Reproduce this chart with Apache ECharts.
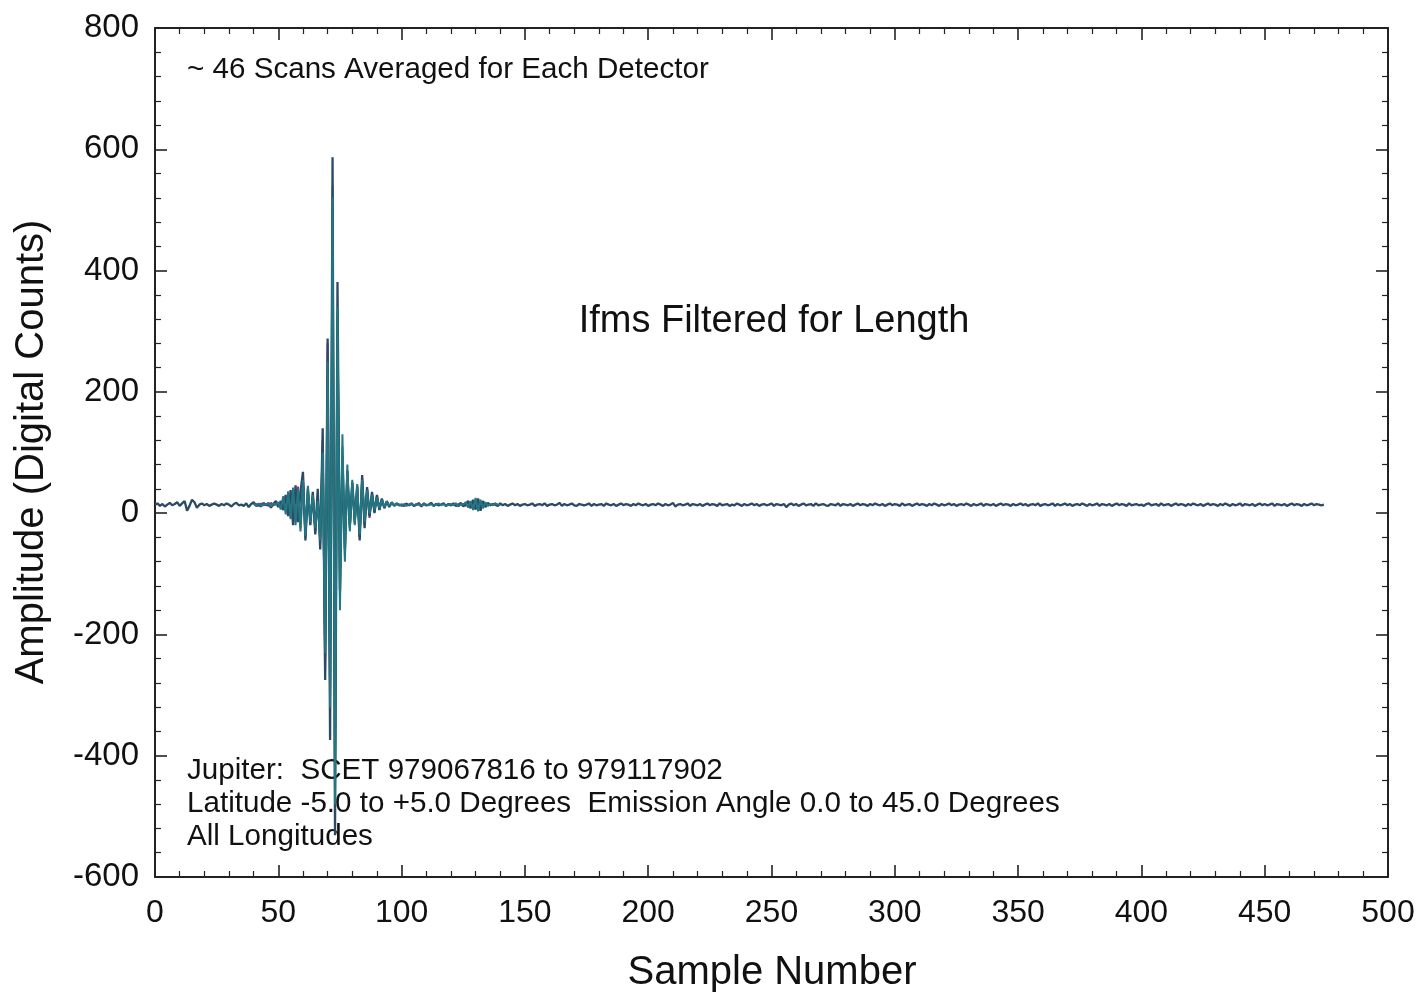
<!DOCTYPE html>
<html>
<head>
<meta charset="utf-8">
<script src="https://cdn.jsdelivr.net/npm/echarts@6/dist/echarts.min.js"></script>
<style>
html,body{margin:0;padding:0;background:#fff;}
#chart{width:1420px;height:997px;}
</style>
</head>
<body>
<div id="chart"></div>
<script>
// ---- Data ----
const xTickValues = [0, 50, 100, 150, 200, 250, 300, 350, 400, 450, 500];
const yTickValues = [-600, -400, -200, 0, 200, 400, 600, 800];

// Main detector trace (dark slate), samples 0..474
const detMainStart = 0;
const detMain = [
  14,16,12,15,11,14,17,13,15,18,12,16,20,4,12,22,18,9,14,16,
  13,15,12,14,16,14,12,15,13,16,14,11,15,17,13,14,12,16,10,15,
  18,12,14,11,17,13,16,9,15,20,
  10,20,5,30,-5,38,-20,46,-15,35,
  68,-45,40,-20,35,-35,40,-60,140,-275,
  288,-374,587,-531,381,-127,95,-60,70,-20,
  50,-10,45,-45,63,-25,43,-5,35,0,
  30,5,24,8,20,10,18,12,16,13,
  14,12,15,13,16,12,14,15,11,16,13,14,17,12,15,13,14,16,12,15,
  13,16,12,14,17,11,15,20,8,22,6,24,4,20,10,17,13,15,14,12,
  16,13,15,12,14,16,13,15,12,14,
  15,13,14,16,12,14,15,13,16,12,14,15,13,14,17,12,15,13,14,16,13,12,15,14,13,
  14,16,12,15,13,14,15,12,16,14,13,15,12,14,16,13,15,14,12,15,13,16,14,13,15,
  12,14,15,13,16,14,12,15,13,14,17,11,14,15,13,14,16,12,15,14,13,15,12,14,16,
  13,15,14,12,16,13,14,15,12,14,13,16,14,12,15,13,14,16,13,15,12,14,15,13,14,
  16,12,15,14,13,15,10,14,16,13,15,12,14,16,13,14,15,12,16,13,14,15,13,12,15,
  14,13,16,12,15,14,13,15,12,14,16,13,15,14,12,15,13,16,14,13,15,12,14,16,13,
  15,14,12,16,13,14,15,12,14,16,13,15,14,12,15,13,16,14,12,15,13,14,16,13,15,
  12,14,15,13,16,14,12,15,13,14,16,12,15,14,13,15,12,14,16,13,15,14,12,15,13,
  14,16,13,15,12,14,15,13,16,12,14,15,13,14,16,12,15,13,14,16,13,15,12,14,15,
  13,16,14,12,15,13,14,16,12,15,14,13,15,12,14,16,13,15,14,12,16,13,14,15,13,
  14,12,15,16,13,14,15,12,16,13,14,15,12,14,16,13,15,14,12,15,13,16,14,13,15,
  12,14,16,13,15,14,12,15,13,16,14,12,15,13,14,16,12,15,14,13,15,12,14,16,13,
  15,13,14,16,12,15,14,13,15,12,14,16,13,15,14,12,15,13,14,16,13,15,14,13,14
];

// Teal detector trace, samples 40..140
const detTealStart = 40;
const detTeal = [
  15,13,16,12,15,14,17,11,16,14,
  18,6,28,-2,36,-10,42,-20,40,-30,
  55,-38,45,-15,30,-25,20,-45,100,-230,
  250,-320,521,-480,340,-160,130,-80,80,-30,
  55,-20,48,-35,55,-15,38,0,30,5,
  26,8,22,10,19,12,17,13,16,14,
  13,15,12,14,16,13,15,14,12,16,14,13,15,12,14,16,13,15,12,14,
  15,13,16,11,15,14,18,9,20,5,25,3,22,8,18,12,15,13,16,14,13
];

// Magenta detector trace, samples 40..140
const detMagentaStart = 40;
const detMagenta = [
  14,15,12,16,13,15,12,17,13,15,
  14,10,22,4,30,-8,36,-15,44,-25,
  60,-40,38,-10,28,-30,25,-50,120,-260,
  280,-300,420,-400,300,-100,70,-50,65,-25,
  45,-15,40,-40,58,-20,40,-8,32,2,
  28,6,22,9,19,11,17,13,15,14,
  12,14,16,13,15,12,14,17,12,15,13,14,16,12,15,13,14,16,12,15,
  13,14,16,12,14,15,12,19,10,21,7,20,9,18,12,15,13,14,16,13,14
];

// Green detector trace, samples 60..100
const detGreenStart = 60;
const detGreen = [
  50,-30,35,-15,32,-28,30,-40,110,-240,
  220,-290,540,-460,330,-140,110,-70,70,-25,
  50,-18,42,-38,55,-18,40,-5,32,4,
  27,7,22,10,18,12,16,13,15,14,14
];

const seriesDefs = [
  {name: 'Detector C', start: detMagentaStart, values: detMagenta, color: '#9a3577', width: 2.0},
  {name: 'Detector D', start: detGreenStart, values: detGreen, color: '#1f9a6e', width: 2.0},
  {name: 'Detector A', start: detMainStart, values: detMain, color: '#2c4a66', width: 2.3},
  {name: 'Detector B', start: detTealStart, values: detTeal, color: '#237782', width: 2.0}
];

const FONT = '"Liberation Sans", Arial, Helvetica, sans-serif';

const chart = echarts.init(document.getElementById('chart'), null, {renderer: 'canvas'});

const tickStyle = {show: true, inside: true, length: 12, lineStyle: {color: '#222', width: 1.6}};
const minorStyle = {show: true, splitNumber: 5, length: 6, lineStyle: {color: '#222', width: 1.2}};
const lineStyleAx = {show: true, onZero: false, lineStyle: {color: '#222', width: 2}};

const option = {
  backgroundColor: '#ffffff',
  animation: false,
  grid: {left: 155, right: 32, top: 28, bottom: 120, containLabel: false},
  xAxis: [
    {
      type: 'value', min: 0, max: 500, interval: 50, position: 'bottom',
      axisLine: lineStyleAx,
      axisTick: tickStyle,
      minorTick: minorStyle,
      splitLine: {show: false},
      axisLabel: {
        show: true, margin: 20, color: '#111', fontSize: 32, fontFamily: FONT,
        customValues: xTickValues,
        formatter: v => String(v)
      }
    },
    {
      type: 'value', min: 0, max: 500, interval: 50, position: 'top',
      axisLine: lineStyleAx,
      axisTick: tickStyle,
      minorTick: minorStyle,
      splitLine: {show: false},
      axisLabel: {show: false}
    }
  ],
  yAxis: [
    {
      type: 'value', min: -600, max: 800, interval: 200, position: 'left',
      axisLine: lineStyleAx,
      axisTick: tickStyle,
      minorTick: minorStyle,
      splitLine: {show: false},
      axisLabel: {
        show: true, margin: 16, color: '#111', fontSize: 33, fontFamily: FONT,
        customValues: yTickValues,
        formatter: v => String(v)
      }
    },
    {
      type: 'value', min: -600, max: 800, interval: 200, position: 'right',
      axisLine: lineStyleAx,
      axisTick: tickStyle,
      minorTick: minorStyle,
      splitLine: {show: false},
      axisLabel: {show: false}
    }
  ],
  series: seriesDefs.map(d => ({
    name: d.name,
    type: 'line',
    xAxisIndex: 0,
    yAxisIndex: 0,
    showSymbol: false,
    symbol: 'none',
    smooth: false,
    clip: true,
    lineStyle: {color: d.color, width: d.width},
    data: d.values.map((v, i) => [d.start + i, v])
  })),
  graphic: [
    {type: 'text', x: 187, y: 70, style: {text: '~ 46 Scans Averaged for Each Detector', font: '29.6px ' + FONT, fill: '#111', textAlign: 'left', textVerticalAlign: 'middle'}},
    {type: 'text', x: 774, y: 322, style: {text: 'Ifms Filtered for Length', font: '38px ' + FONT, fill: '#111', textAlign: 'center', textVerticalAlign: 'middle'}},
    {type: 'text', x: 187, y: 771, style: {text: 'Jupiter:  SCET 979067816 to 979117902', font: '29.6px ' + FONT, fill: '#111', textAlign: 'left', textVerticalAlign: 'middle'}},
    {type: 'text', x: 187, y: 804, style: {text: 'Latitude -5.0 to +5.0 Degrees  Emission Angle 0.0 to 45.0 Degrees', font: '29.6px ' + FONT, fill: '#111', textAlign: 'left', textVerticalAlign: 'middle'}},
    {type: 'text', x: 187, y: 837, style: {text: 'All Longitudes', font: '29.6px ' + FONT, fill: '#111', textAlign: 'left', textVerticalAlign: 'middle'}},
    {type: 'text', x: 772, y: 973, style: {text: 'Sample Number', font: '40px ' + FONT, fill: '#111', textAlign: 'center', textVerticalAlign: 'middle'}},
    {type: 'text', x: 32, y: 452, rotation: Math.PI / 2, style: {text: 'Amplitude (Digital Counts)', font: '40px ' + FONT, fill: '#111', textAlign: 'center', textVerticalAlign: 'middle'}}
  ]
};

chart.setOption(option);
</script>
</body>
</html>
